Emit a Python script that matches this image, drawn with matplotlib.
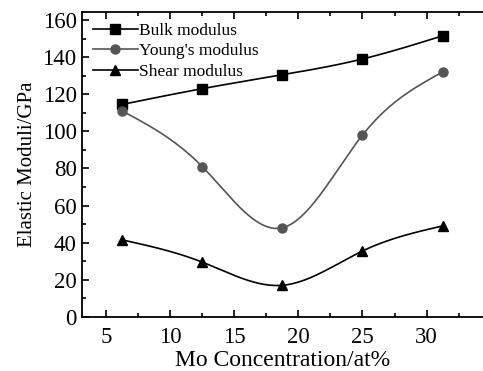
# Elastic moduli vs Mo concentration
import numpy as np
import matplotlib.pyplot as plt
from matplotlib.ticker import MultipleLocator

plt.rcParams['font.family'] = ['Liberation Serif', 'DejaVu Serif']

# datos
mo_conc = [6.25, 12.5, 18.75, 25.0, 31.25]
bulk = [114.5, 123, 130.5, 139, 151.5]
young = [111, 81, 48, 98, 132]
shear = [41.5, 29.5, 17, 35.5, 49]


def spline(x, y, n=200):
    # spline cubico natural, solo para dibujar la curva suave
    x = np.asarray(x, float)
    y = np.asarray(y, float)
    k = len(x)
    h = np.diff(x)
    A = np.zeros((k, k))
    b = np.zeros(k)
    A[0, 0] = A[-1, -1] = 1
    for i in range(1, k - 1):
        A[i, i - 1] = h[i - 1]
        A[i, i] = 2 * (h[i - 1] + h[i])
        A[i, i + 1] = h[i]
        b[i] = 6 * ((y[i + 1] - y[i]) / h[i] - (y[i] - y[i - 1]) / h[i - 1])
    M = np.linalg.solve(A, b)
    xs = np.linspace(x[0], x[-1], n)
    idx = np.clip(np.searchsorted(x, xs) - 1, 0, k - 2)
    x0, x1 = x[idx], x[idx + 1]
    hh = x1 - x0
    t0, t1 = x1 - xs, xs - x0
    ys = (M[idx] * t0**3 / (6 * hh) + M[idx + 1] * t1**3 / (6 * hh)
          + (y[idx] / hh - M[idx] * hh / 6) * t0
          + (y[idx + 1] / hh - M[idx + 1] * hh / 6) * t1)
    return xs, ys


fig = plt.figure(figsize=(4.83, 3.71), dpi=100)
ax = fig.add_axes([0.170, 0.146, 0.83, 0.821])

series = [(bulk, 'Bulk modulus', 's', 'black'),
          (young, "Young's modulus", 'o', '#555555'),
          (shear, 'Shear modulus', '^', 'black')]

for vals, name, mk, col in series:
    xs, ys = spline(mo_conc, vals)
    ax.plot(xs, ys, color=col, lw=1.2)
    ax.plot(mo_conc, vals, mk, color=col, ms=6.5, ls='none')
    ax.plot([], [], color=col, lw=1.2, marker=mk, ms=6.5, label=name)

ax.set_xlim(3.13, 34.4)
ax.set_ylim(0, 164.2)
ax.xaxis.set_major_locator(MultipleLocator(5))
ax.xaxis.set_minor_locator(MultipleLocator(2.5))
ax.yaxis.set_major_locator(MultipleLocator(20))
ax.yaxis.set_minor_locator(MultipleLocator(10))
ax.tick_params(which='both', direction='in', top=True, right=False,
               labelsize=16.5, width=1.2)
ax.tick_params(which='major', length=5)
ax.tick_params(which='minor', length=3)
ax.tick_params(axis='x', pad=7)
ax.tick_params(axis='y', pad=4)
ax.spines['right'].set_visible(False)
for s in ['left', 'bottom', 'top']:
    ax.spines[s].set_linewidth(1.3)

ax.set_xlabel('Mo Concentration/at%', fontsize=17, labelpad=2)
ax.set_ylabel('Elastic Moduli/GPa', fontsize=15, labelpad=4)

ax.legend(loc='upper left', frameon=False, fontsize=12.5, handlelength=2.6,
          borderaxespad=0.2, labelspacing=0.25, handletextpad=0.1)

fig.savefig('out.png', dpi=100)
